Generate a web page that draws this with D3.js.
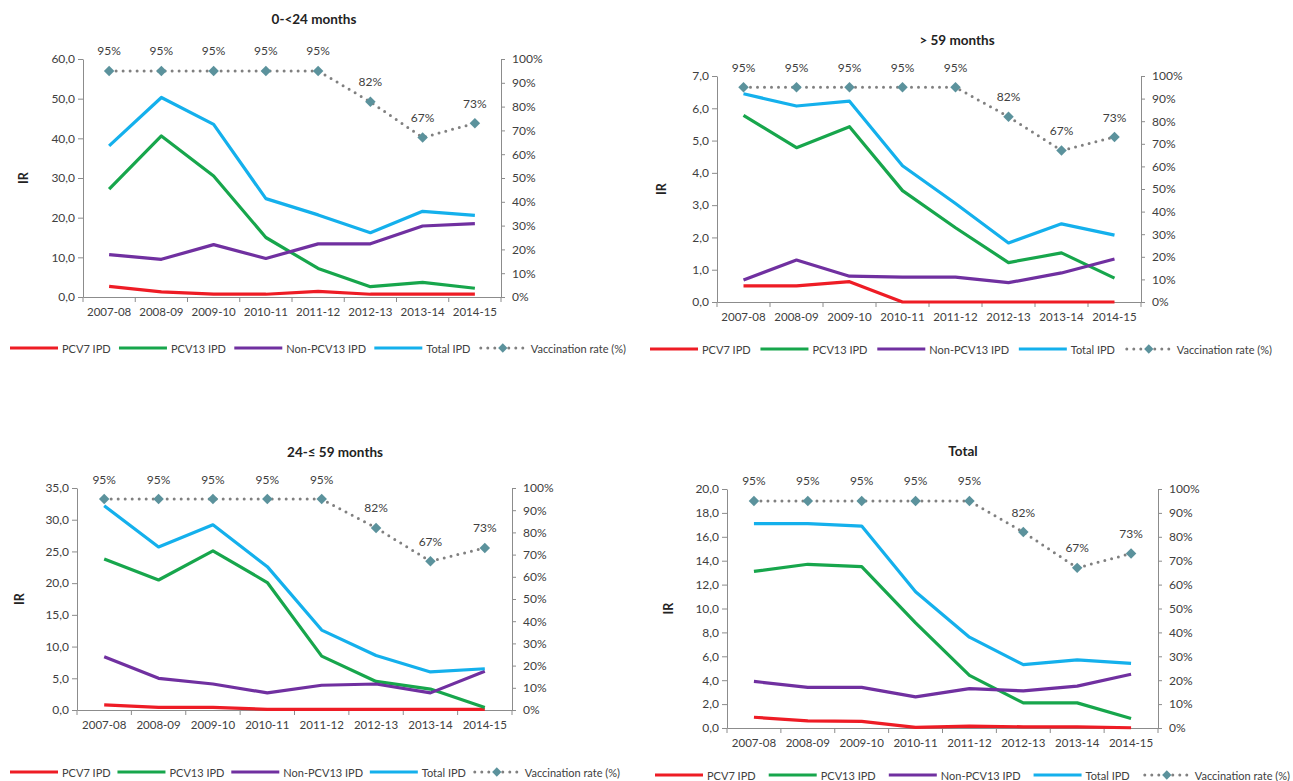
<!DOCTYPE html>
<html>
<head>
<meta charset="utf-8">
<script src="https://cdn.jsdelivr.net/npm/d3@7"></script>
<style>
  html, body { margin: 0; padding: 0; background: #fff; }
  svg { display: block; font-family: Lato, "Liberation Sans", sans-serif; }
</style>
</head>
<body>
<svg id="chart" width="1293" height="781"></svg>
<script>
// Seasons on the x axis
const categories = ["2007-08", "2008-09", "2009-10", "2010-11", "2011-12", "2012-13", "2013-14", "2014-15"];

// Vaccination coverage (%), shared by every age group
const vaccinationRate = [95, 95, 95, 95, 95, 82, 67, 73];

// Series names in legend order
const seriesNames = ["PCV7 IPD", "PCV13 IPD", "Non-PCV13 IPD", "Total IPD"];
const vaccinationName = "Vaccination rate (%)";

// Incidence rates, 0-<24 months
const under24Pcv7 = [2.7, 1.3, 0.7, 0.7, 1.4, 0.7, 0.7, 0.7];
const under24Pcv13 = [27.2, 40.6, 30.5, 15.0, 7.2, 2.6, 3.7, 2.2];
const under24NonPcv13 = [10.7, 9.5, 13.2, 9.7, 13.4, 13.4, 17.9, 18.5];
const under24Total = [38.1, 50.3, 43.5, 24.8, 20.7, 16.2, 21.6, 20.6];

// Incidence rates, > 59 months
const over59Pcv7 = [0.5, 0.5, 0.63, 0, 0, 0, 0, 0];
const over59Pcv13 = [5.78, 4.78, 5.43, 3.45, 2.3, 1.22, 1.52, 0.74];
const over59NonPcv13 = [0.68, 1.3, 0.8, 0.77, 0.77, 0.6, 0.9, 1.33];
const over59Total = [6.45, 6.07, 6.22, 4.22, 3.05, 1.83, 2.42, 2.07];

// Incidence rates, 24-≤ 59 months
const from24to59Pcv7 = [0.8, 0.4, 0.4, 0.1, 0.1, 0.1, 0.1, 0.1];
const from24to59Pcv13 = [23.8, 20.5, 25.1, 20.1, 8.5, 4.5, 3.3, 0.4];
const from24to59NonPcv13 = [8.4, 5.0, 4.1, 2.7, 3.9, 4.1, 2.7, 6.1];
const from24to59Total = [32.2, 25.7, 29.2, 22.6, 12.6, 8.6, 6.0, 6.5];

// Incidence rates, all ages
const allAgesPcv7 = [0.9, 0.6, 0.55, 0.05, 0.15, 0.1, 0.1, 0.02];
const allAgesPcv13 = [13.1, 13.7, 13.5, 8.8, 4.4, 2.1, 2.1, 0.8];
const allAgesNonPcv13 = [3.9, 3.4, 3.4, 2.6, 3.3, 3.1, 3.5, 4.5];
const allAgesTotal = [17.1, 17.1, 16.9, 11.4, 7.6, 5.3, 5.7, 5.4];

// Left-axis tick values per panel
const under24Ticks = [0, 10, 20, 30, 40, 50, 60];
const over59Ticks = [0, 1, 2, 3, 4, 5, 6, 7];
const from24to59Ticks = [0, 5, 10, 15, 20, 25, 30, 35];
const allAgesTicks = [0, 2, 4, 6, 8, 10, 12, 14, 16, 18, 20];
const rateTicks = [0, 10, 20, 30, 40, 50, 60, 70, 80, 90, 100];

// Panel titles
const panelTitles = ["0-<24 months", "> 59 months", "24-≤ 59 months", "Total"];

// Styling
const seriesColors = ["#ee1c25", "#17a64c", "#7030a0", "#14b0ec"];
const axisColor = "#8c8c8c";
const textColor = "#404040";
const rateLineColor = "#808080";
const rateMarkerColor = "#5b929c";

// Panel placement on the page
const panels = [
  { title: panelTitles[0], ticks: under24Ticks,
    series: [under24Pcv7, under24Pcv13, under24NonPcv13, under24Total],
    left: 83, right: 501, top: 59, bottom: 297, titleX: 314, titleY: 19, irX: 23,
    legend: { x0: 10, x1: 626, y: 348 } },
  { title: panelTitles[1], ticks: over59Ticks,
    series: [over59Pcv7, over59Pcv13, over59NonPcv13, over59Total],
    left: 717, right: 1141, top: 76, bottom: 302, titleX: 957, titleY: 40, irX: 661,
    legend: { x0: 650, x1: 1272, y: 349 } },
  { title: panelTitles[2], ticks: from24to59Ticks,
    series: [from24to59Pcv7, from24to59Pcv13, from24to59NonPcv13, from24to59Total],
    left: 77, right: 512, top: 488, bottom: 710, titleX: 335, titleY: 452, irX: 19,
    legend: { x0: 10, x1: 620, y: 772 } },
  { title: panelTitles[3], ticks: allAgesTicks,
    series: [allAgesPcv7, allAgesPcv13, allAgesNonPcv13, allAgesTotal],
    left: 727, right: 1158, top: 489, bottom: 728, titleX: 963, titleY: 451, irX: 668,
    legend: { x0: 655, x1: 1290, y: 775 } }
];

const svg = d3.select("#chart");
const fmtIR = v => d3.format(".1f")(v).replace(".", ",");

function drawPanel(p) {
  const g = svg.append("g");
  const x = d3.scaleBand().domain(categories).range([p.left, p.right]);
  const y = d3.scaleLinear().domain([0, d3.max(p.ticks)]).range([p.bottom, p.top]);
  const y2 = d3.scaleLinear().domain([0, 100]).range([p.bottom, p.top]);
  const cx = c => x(c) + x.bandwidth() / 2;

  // Title
  g.append("text")
    .attr("x", p.titleX).attr("y", p.titleY)
    .attr("text-anchor", "middle").attr("dominant-baseline", "central")
    .attr("font-size", 13.5).attr("font-weight", "bold").attr("fill", "#222")
    .text(p.title);

  // Left axis
  const leftAxis = g.append("g")
    .attr("transform", `translate(${p.left},0)`)
    .call(d3.axisLeft(y).tickValues(p.ticks).tickFormat(fmtIR).tickSize(5).tickPadding(3).tickSizeOuter(0));
  // Right axis
  const rightAxis = g.append("g")
    .attr("transform", `translate(${p.right},0)`)
    .call(d3.axisRight(y2).tickValues(rateTicks).tickFormat(d => d + "%").tickSize(4).tickPadding(7).tickSizeOuter(0));
  // Bottom axis: labels centred on each season
  const bottomAxis = g.append("g")
    .attr("transform", `translate(0,${p.bottom})`)
    .call(d3.axisBottom(x).tickSize(0).tickPadding(11).tickSizeOuter(0));
  // Boundary ticks between seasons
  const bounds = categories.map(c => x(c)).concat([p.right]);
  g.append("g").selectAll("line").data(bounds).join("line")
    .attr("x1", d => d).attr("x2", d => d)
    .attr("y1", p.bottom).attr("y2", p.bottom + 5)
    .attr("stroke", axisColor);

  [leftAxis, rightAxis, bottomAxis].forEach(a => {
    a.selectAll(".domain, line").attr("stroke", axisColor);
    a.selectAll("text").attr("fill", textColor).attr("font-size", 12)
      .attr("font-family", "Lato, sans-serif");
  });
  bottomAxis.selectAll("text").attr("font-size", 11.5);

  // IR label
  g.append("text")
    .attr("transform", `translate(${p.irX},${(p.top + p.bottom) / 2}) rotate(-90)`)
    .attr("text-anchor", "middle").attr("dominant-baseline", "central")
    .attr("font-size", 12.5).attr("font-weight", "bold").attr("fill", "#222")
    .text("IR");

  // Incidence lines
  const line = d3.line().x((d, i) => cx(categories[i])).y(d => y(d));
  p.series.forEach((values, k) => {
    g.append("path").datum(values)
      .attr("d", line)
      .attr("fill", "none")
      .attr("stroke", seriesColors[k])
      .attr("stroke-width", 3.2)
      .attr("stroke-linejoin", "round");
  });

  // Vaccination rate on the secondary axis
  const rateLine = d3.line().x((d, i) => cx(categories[i])).y(d => y2(d));
  g.append("path").datum(vaccinationRate)
    .attr("d", rateLine)
    .attr("fill", "none")
    .attr("stroke", rateLineColor)
    .attr("stroke-width", 3)
    .attr("stroke-linecap", "round")
    .attr("stroke-dasharray", "0,7");
  const diamond = d3.symbol().type(d3.symbolDiamond2).size(70);
  g.append("g").selectAll("path").data(vaccinationRate).join("path")
    .attr("d", diamond)
    .attr("transform", (d, i) => `translate(${cx(categories[i])},${y2(d)})`)
    .attr("fill", rateMarkerColor);
  g.append("g").selectAll("text").data(vaccinationRate).join("text")
    .attr("x", (d, i) => cx(categories[i]))
    .attr("y", d => y2(d) - 20)
    .attr("text-anchor", "middle").attr("dominant-baseline", "central")
    .attr("font-size", 12).attr("fill", textColor)
    .text(d => d + "%");

  drawLegend(g, p.legend);
}

function drawLegend(g, L) {
  const lineLen = 48, textGap = 4;
  const items = seriesNames.map((n, k) => ({ name: n, color: seriesColors[k], rate: false }))
    .concat([{ name: vaccinationName, color: rateLineColor, rate: true }]);
  const lg = g.append("g");
  const groups = items.map(it => {
    const ig = lg.append("g");
    if (it.rate) {
      ig.append("line").attr("x1", 2).attr("x2", lineLen - 2).attr("y1", L.y).attr("y2", L.y)
        .attr("stroke", rateLineColor).attr("stroke-width", 3)
        .attr("stroke-linecap", "round").attr("stroke-dasharray", "0,7");
      ig.append("path").attr("d", d3.symbol().type(d3.symbolDiamond2).size(55)())
        .attr("transform", `translate(${lineLen / 2},${L.y})`).attr("fill", rateMarkerColor);
    } else {
      ig.append("line").attr("x1", 0).attr("x2", lineLen).attr("y1", L.y).attr("y2", L.y)
        .attr("stroke", it.color).attr("stroke-width", 3.2);
    }
    const t = ig.append("text").attr("x", lineLen + textGap).attr("y", L.y)
      .attr("dominant-baseline", "central").attr("font-size", 11).attr("fill", textColor)
      .text(it.name);
    return { ig, w: lineLen + textGap + t.node().getComputedTextLength() };
  });
  const total = d3.sum(groups, d => d.w);
  const gap = Math.max(4, (L.x1 - L.x0 - total) / (groups.length - 1));
  let pos = L.x0;
  groups.forEach(d => {
    d.ig.attr("transform", `translate(${pos},0)`);
    pos += d.w + gap;
  });
}

panels.forEach(drawPanel);
</script>
</body>
</html>
